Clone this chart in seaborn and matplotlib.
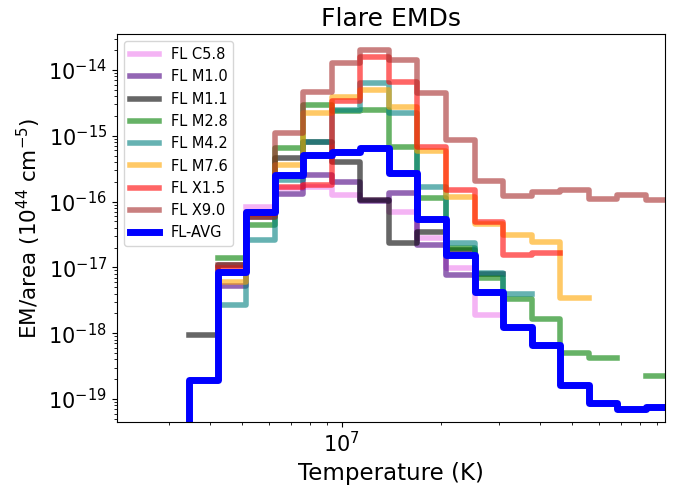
import numpy as np
import pandas as pd
import matplotlib
matplotlib.use("Agg")
import matplotlib.pyplot as plt
import seaborn as sns

nan = np.nan

# log10 temperature bin edges (bins -1 .. 16)
log_T_edges = [6.4508, 6.5373, 6.6238, 6.7103, 6.7968, 6.8833, 6.9698, 7.0563,
               7.1428, 7.2293, 7.3158, 7.4023, 7.4888, 7.5753, 7.6618, 7.7483,
               7.8348, 7.9213, 8.0078]

labels = ["FL C5.8", "FL M1.0", "FL M1.1", "FL M2.8", "FL M4.2",
          "FL M7.6", "FL X1.5", "FL X9.0", "FL-AVG"]
colors = ["violet", "indigo", "black", "green", "teal",
          "orange", "red", "brown", "blue"]

#            k=-1  k=0      k=1      k=2      k=3      k=4      k=5      k=6      k=7      k=8      k=9      k=10     k=11     k=12     k=13     k=14     k=15     k=16
em_c58 = [nan, nan, nan, 8.36e-17, 1.61e-16, 1.68e-16, 1.26e-16, 1.06e-16, 7.03e-17, 2.77e-17, 9.69e-18, 1.89e-18, nan, nan, nan, nan, nan, nan]
em_m10 = [nan, nan, 5.22e-18, 6.95e-17, 1.30e-16, 2.54e-16, 2.01e-16, 1.02e-16, 1.34e-16, 2.19e-17, 7.66e-18, nan, nan, nan, nan, nan, nan, nan]
em_m11 = [nan, 9.39e-19, 1.09e-17, 5.90e-17, 4.55e-16, 8.05e-16, 4.04e-16, 1.06e-16, 2.32e-17, 3.49e-17, 1.84e-17, 7.94e-18, nan, nan, nan, nan, nan, nan]
em_m28 = [nan, nan, 1.39e-17, 4.41e-17, 6.53e-16, 2.94e-15, 2.38e-15, 2.47e-15, 6.83e-16, 1.15e-16, 1.97e-17, 6.90e-18, 3.29e-18, 1.63e-18, 4.95e-19, 4.16e-19, nan, 2.24e-19]
em_m42 = [nan, nan, 2.69e-18, 2.61e-17, 2.13e-16, 8.05e-16, 2.47e-15, 6.28e-15, 2.20e-15, 1.68e-16, 2.32e-17, 8.36e-18, 3.94e-18, nan, nan, nan, nan, nan]
em_m76 = [nan, nan, 6.06e-18, 6.71e-17, 3.54e-16, 2.20e-15, 3.89e-15, 4.97e-15, 2.71e-15, 5.94e-16, 1.19e-16, 4.57e-17, 3.11e-17, 2.46e-17, 3.39e-18, nan, nan, nan]
em_x15 = [nan, nan, 9.79e-18, 6.48e-17, 1.68e-16, 1.79e-16, 3.38e-15, 1.59e-14, 6.64e-15, 6.83e-16, 1.50e-16, 4.90e-17, 1.54e-17, 1.66e-17, nan, nan, nan, nan]
em_x90 = [nan, nan, 1.09e-17, 5.90e-17, 1.10e-15, 4.68e-15, 1.26e-14, 2.01e-14, 1.42e-14, 4.42e-15, 8.64e-16, 2.06e-16, 1.22e-16, 1.41e-16, 1.50e-16, 1.10e-16, 1.24e-16, 1.06e-16]
em_avg = [1e-21, 1.95e-19, 8.60e-18, 7.03e-17, 2.54e-16, 5.11e-16, 5.73e-16, 6.46e-16, 2.69e-16, 5.39e-17, 1.54e-17, 4.27e-18, 1.23e-18, 6.62e-19, 1.63e-19, 8.61e-20, 6.97e-20, 7.48e-20]

series = [em_c58, em_m10, em_m11, em_m28, em_m42, em_m76, em_x15, em_x90, em_avg]

T_edges = [10 ** v for v in log_T_edges]

fig = plt.figure(figsize=(6.81, 4.88), dpi=100)
ax = fig.add_axes([0.1714, 0.1359, 0.8044, 0.7944])
ax.set_xscale("log")
ax.set_yscale("log")

handles = []
for vals, lab, col in zip(series, labels, colors):
    is_avg = lab == "FL-AVG"
    alpha = 1.0 if is_avg else 0.6
    lw = 5.0 if is_avg else 4.0
    v = np.array(vals, dtype=float)
    n = len(v)
    k = 0
    first_line = None
    while k < n:
        if np.isnan(v[k]):
            k += 1
            continue
        j = k
        while j + 1 < n and not np.isnan(v[j + 1]):
            j += 1
        xs = T_edges[k:j + 2]
        ys = list(v[k:j + 1]) + [v[j]]
        df = pd.DataFrame({"T": xs, "EM": ys})
        before = len(ax.lines)
        sns.lineplot(data=df, x="T", y="EM", ax=ax, color=col, alpha=alpha,
                     linewidth=lw, drawstyle="steps-post", estimator=None,
                     sort=False, legend=False)
        if first_line is None:
            first_line = ax.lines[before]
        k = j + 1
    first_line.set_label(lab)
    handles.append(first_line)

ax.set_xlim(10 ** 6.318, 10 ** 7.978)
ax.set_ylim(10 ** -19.345, 10 ** -13.453)

ax.set_title("Flare EMDs", fontsize=18)
ax.set_xlabel("Temperature (K)", fontsize=16.5)
ax.set_ylabel("EM/area (10$^{44}$ cm$^{-5}$)", fontsize=15.5)
ax.tick_params(axis="both", which="major", labelsize=15)

ax.legend(handles=handles, labels=labels, loc="upper left", fontsize=10.5)

fig.savefig("out.png", dpi=100)
